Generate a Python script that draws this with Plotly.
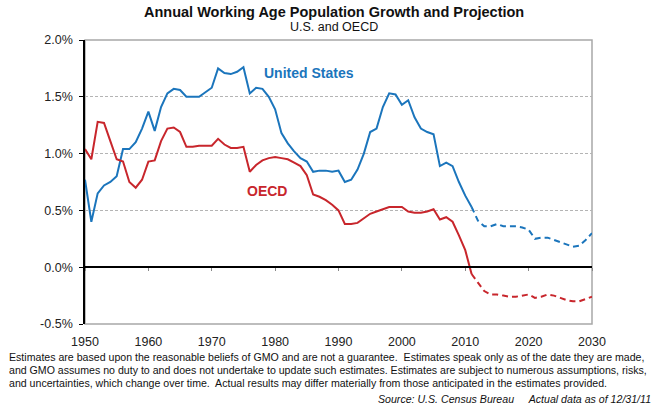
import plotly.graph_objects as go

# ---------------- data ----------------
years_actual = list(range(1950, 2012))
years_proj = list(range(2011, 2031))

us_actual = [0.77, 0.40, 0.65, 0.72, 0.75, 0.80, 1.04, 1.04, 1.10, 1.22,
             1.37, 1.20, 1.41, 1.53, 1.57, 1.56, 1.50, 1.50, 1.50, 1.54,
             1.58, 1.75, 1.71, 1.70, 1.72, 1.76, 1.53, 1.58, 1.57, 1.50,
             1.39, 1.18, 1.09, 1.02, 0.96, 0.93, 0.84, 0.85, 0.85, 0.84,
             0.85, 0.75, 0.77, 0.86, 1.00, 1.19, 1.22, 1.41, 1.53, 1.52,
             1.43, 1.47, 1.32, 1.22, 1.19, 1.17, 0.89, 0.92, 0.89, 0.75,
             0.63, 0.53]
us_proj = [0.53, 0.41, 0.36, 0.36, 0.38, 0.36, 0.36, 0.36, 0.35, 0.33,
           0.25, 0.26, 0.26, 0.24, 0.22, 0.20, 0.18, 0.19, 0.24, 0.30]

oecd_actual = [1.04, 0.95, 1.28, 1.27, 1.11, 0.95, 0.93, 0.75, 0.70, 0.77,
               0.93, 0.94, 1.11, 1.22, 1.23, 1.19, 1.06, 1.06, 1.07, 1.07,
               1.07, 1.13, 1.08, 1.05, 1.05, 1.06, 0.84, 0.90, 0.94, 0.96,
               0.97, 0.96, 0.95, 0.92, 0.89, 0.81, 0.64, 0.62, 0.59, 0.55,
               0.50, 0.38, 0.38, 0.39, 0.43, 0.47, 0.49, 0.51, 0.53, 0.53,
               0.53, 0.49, 0.48, 0.48, 0.49, 0.51, 0.42, 0.44, 0.40, 0.28,
               0.15, -0.06]
oecd_proj = [-0.06, -0.14, -0.21, -0.24, -0.24, -0.25, -0.26, -0.26, -0.25, -0.24,
             -0.27, -0.26, -0.24, -0.25, -0.27, -0.29, -0.30, -0.30, -0.28, -0.26]

x_ticks = [1950, 1960, 1970, 1980, 1990, 2000, 2010, 2020, 2030]
y_ticks = [-0.5, 0.0, 0.5, 1.0, 1.5, 2.0]
y_tick_labels = ["-0.5%", "0.0%", "0.5%", "1.0%", "1.5%", "2.0%"]

title = "Annual Working Age Population Growth and Projection"
subtitle = "U.S. and OECD"
footer_lines = [
    "Estimates are based upon the reasonable beliefs of GMO and are not a guarantee.  Estimates speak only as of the date they are made,",
    "and GMO assumes no duty to and does not undertake to update such estimates. Estimates are subject to numerous assumptions, risks,",
    "and uncertainties, which change over time.  Actual results may differ materially from those anticipated in the estimates provided.",
]
source_line = "Source: U.S. Census Bureau     Actual data as of 12/31/11"

BLUE = "#1b75bc"
RED = "#c8262c"
FONT = "Arial, Liberation Sans, sans-serif"

fig = go.Figure()
fig.add_trace(go.Scatter(x=years_actual, y=us_actual, mode="lines",
                         line=dict(color=BLUE, width=2), showlegend=False))
fig.add_trace(go.Scatter(x=years_actual, y=oecd_actual, mode="lines",
                         line=dict(color=RED, width=2), showlegend=False))
fig.add_trace(go.Scatter(x=years_proj, y=us_proj, mode="lines", xaxis="x2",
                         line=dict(color=BLUE, width=2, dash="6px,4px"), showlegend=False))
fig.add_trace(go.Scatter(x=years_proj, y=oecd_proj, mode="lines", xaxis="x2",
                         line=dict(color=RED, width=2, dash="6px,4px"), showlegend=False))

W, H = 661, 406
ml, mr, mt, mb = 85, 69, 40, 82
fig.update_layout(
    width=W, height=H,
    margin=dict(l=ml, r=mr, t=mt, b=mb, pad=0),
    paper_bgcolor="white", plot_bgcolor="white",
    font=dict(family=FONT, size=12, color="#222222"),
    xaxis=dict(range=[1950, 2030], tickvals=x_ticks, ticks="", showgrid=False,
               zeroline=False, showline=False, ticklabelstandoff=8,
               tickfont=dict(size=12.5, color="#222")),
    xaxis2=dict(range=[1950, 2030], tickvals=x_ticks, overlaying="x", anchor="free",
                position=0.2, side="bottom", showticklabels=False, ticks="outside",
                ticklen=3, tickcolor="#888", showgrid=False, zeroline=False,
                showline=True, linecolor="black", linewidth=1.5),
    yaxis=dict(range=[-0.5, 2.0], tickvals=y_ticks, ticktext=y_tick_labels,
               showgrid=True, gridcolor="#b4b4b4", griddash="3px,2px", gridwidth=1,
               zeroline=False, showline=True, linecolor="black", linewidth=1.5,
               ticks="outside", ticklen=4, tickcolor="black", ticklabelstandoff=4,
               tickfont=dict(size=12.5, color="#222")),
)

fig.add_shape(type="rect", xref="x domain", yref="y domain", x0=0, x1=1, y0=0, y1=1,
              line=dict(color="#a8a8a8", width=1.5), layer="below")

anns = [
    dict(text="<b>" + title + "</b>", x=0.5, y=1, xref="paper", yref="paper",
         xanchor="center", yanchor="middle", yshift=28, xshift=-5, showarrow=False,
         font=dict(size=14.5, color="#111")),
    dict(text=subtitle, x=0.5, y=1, xref="paper", yref="paper",
         xanchor="center", yanchor="middle", yshift=13, xshift=-5, showarrow=False,
         font=dict(size=12.5, color="#111")),
    dict(text="<b>United States</b>", x=1985.4, y=1.71, xref="x", yref="y",
         showarrow=False, font=dict(size=14, color=BLUE)),
    dict(text="<b>OECD</b>", x=1978.7, y=0.67, xref="x", yref="y",
         showarrow=False, font=dict(size=14, color=RED)),
]
for i, line in enumerate(footer_lines):
    anns.append(dict(text=line, x=0, y=0, xref="paper", yref="paper",
                     xanchor="left", yanchor="middle", xshift=-78,
                     yshift=-(356 - 323.5) - 13 * i, showarrow=False,
                     font=dict(size=10.6, color="#111")))
anns.append(dict(text="<i>" + source_line.replace("     ", "&nbsp;&nbsp;&nbsp;&nbsp;&nbsp;") + "</i>",
                 x=1, y=0, xref="paper", yref="paper", xanchor="right", yanchor="middle",
                 xshift=61, yshift=-(398 - 323.5), showarrow=False,
                 font=dict(size=10.6, color="#111")))
fig.update_layout(annotations=anns)

fig.write_html("out.html", config={"displayModeBar": False},
               post_script="document.body.style.margin='0';document.body.style.padding='0';")
